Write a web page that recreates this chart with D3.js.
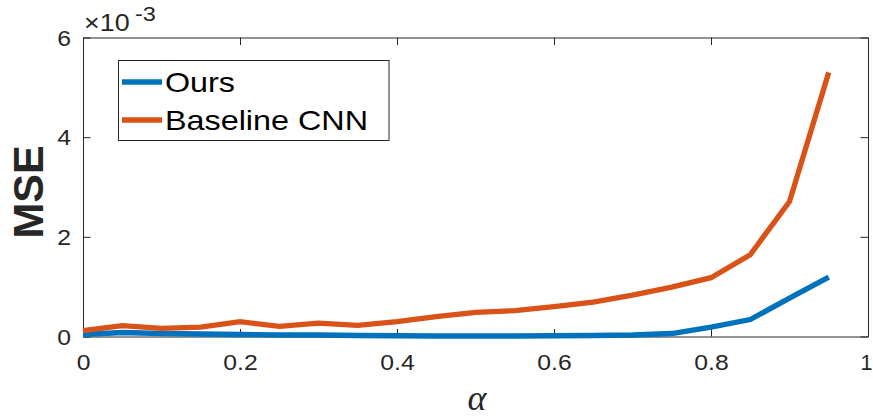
<!DOCTYPE html>
<html>
<head>
<meta charset="utf-8">
<script src="https://cdn.jsdelivr.net/npm/d3@7"></script>
<style>
  html, body { margin: 0; padding: 0; background: #fff; }
  svg { display: block; }
  text { font-family: "Liberation Sans", Arial, Helvetica, sans-serif; }
</style>
</head>
<body>
<svg id="chart" width="873" height="419"></svg>
<script>
// ---- data ----
const alphaValues = [0, 0.05, 0.1, 0.15, 0.2, 0.25, 0.3, 0.35, 0.4, 0.45,
                     0.5, 0.55, 0.6, 0.65, 0.7, 0.75, 0.8, 0.85, 0.9, 0.95];
const oursMSE = [0.04e-3, 0.08e-3, 0.06e-3, 0.05e-3, 0.04e-3, 0.03e-3, 0.03e-3, 0.02e-3, 0.015e-3, 0.01e-3,
                 0.01e-3, 0.01e-3, 0.015e-3, 0.02e-3, 0.03e-3, 0.06e-3, 0.19e-3, 0.34e-3, 0.77e-3, 1.19e-3];
const baselineMSE = [0.116e-3, 0.217e-3, 0.164e-3, 0.19e-3, 0.297e-3, 0.205e-3, 0.27e-3, 0.225e-3, 0.297e-3, 0.40e-3,
                     0.485e-3, 0.518e-3, 0.60e-3, 0.69e-3, 0.83e-3, 0.99e-3, 1.18e-3, 1.64e-3, 2.71e-3, 5.3e-3];
const seriesNames = ["Ours", "Baseline CNN"];
const seriesColors = ["#0072BD", "#D95319"];
const xTicks = [0, 0.2, 0.4, 0.6, 0.8, 1];
const xTickLabels = ["0", "0.2", "0.4", "0.6", "0.8", "1"];
const yTicks = [0, 2e-3, 4e-3, 6e-3];
const yTickLabels = ["0", "2", "4", "6"];

// ---- layout ----
const svg = d3.select("#chart");
const L = 83, R = 868, T = 37.5, B = 336.5;
const x = d3.scaleLinear().domain([0, 1]).range([L, R]);
const y = d3.scaleLinear().domain([0, 6e-3]).range([B, T]);
const axisColor = "#262626";
const stretch = 1.15;

// axes with inward ticks
const gx = svg.append("g").attr("transform", `translate(0,${B})`)
  .call(d3.axisBottom(x).tickValues(xTicks).tickFormat((d, i) => xTickLabels[i])
    .tickSizeInner(-7.5).tickSizeOuter(0).tickPadding(18));
const gxTop = svg.append("g").attr("transform", `translate(0,${T})`)
  .call(d3.axisTop(x).tickValues(xTicks).tickFormat("").tickSizeInner(-7.5).tickSizeOuter(0));
const gy = svg.append("g").attr("transform", `translate(${L},0)`)
  .call(d3.axisLeft(y).tickValues(yTicks).tickFormat((d, i) => yTickLabels[i])
    .tickSizeInner(-7.5).tickSizeOuter(0).tickPadding(19));
const gyR = svg.append("g").attr("transform", `translate(${R},0)`)
  .call(d3.axisRight(y).tickValues(yTicks).tickFormat("").tickSizeInner(-7.5).tickSizeOuter(0));

[gx, gxTop, gy, gyR].forEach(g => {
  g.attr("font-size", 21.5).attr("font-family", '"Liberation Sans", Arial, sans-serif');
  g.select(".domain").attr("stroke", axisColor).attr("stroke-width", 1);
  g.selectAll(".tick line").attr("stroke", axisColor).attr("stroke-width", 1);
  g.selectAll(".tick text").attr("fill", axisColor);
});
gx.selectAll(".tick text").each(function(d, i) {
  const t = d3.select(this).attr("dy", "0.71em");
  if (i < xTicks.length - 1) t.attr("transform", `scale(${stretch},1)`);
  else t.attr("text-anchor", "end").attr("x", 4);
});
gy.selectAll(".tick text").each(function() {
  d3.select(this).attr("x", -12 / stretch).attr("transform", `scale(${stretch},1)`).attr("dy", "0.36em");
});

// exponent label (×10^-3)
svg.append("text").attr("transform", "translate(84,31) scale(1.12,1)")
  .attr("fill", axisColor).attr("font-size", 24).text("×10");
svg.append("text").attr("transform", "translate(135,20.5) scale(1.12,1)")
  .attr("fill", axisColor).attr("font-size", 21).text("-3");

// lines
const line = d3.line().x((d, i) => x(alphaValues[i])).y(d => y(d));
[oursMSE, baselineMSE].forEach((s, k) => {
  svg.append("path").datum(s).attr("d", line)
    .attr("fill", "none").attr("stroke", seriesColors[k]).attr("stroke-width", 5.3)
    .attr("stroke-linejoin", "miter").attr("stroke-linecap", "butt");
});

// legend
const lg = svg.append("g");
lg.append("rect").attr("x", 118.5).attr("y", 60.5).attr("width", 270.5).attr("height", 80)
  .attr("fill", "#fff").attr("stroke", axisColor).attr("stroke-width", 1);
const rowY = [82, 120];
seriesNames.forEach((n, k) => {
  lg.append("line").attr("x1", 122).attr("x2", 162).attr("y1", rowY[k]).attr("y2", rowY[k])
    .attr("stroke", seriesColors[k]).attr("stroke-width", 5.3);
  lg.append("text").attr("x", 165).attr("y", rowY[k] + 9.5)
    .attr("fill", "#000").attr("font-size", 28)
    .attr("textLength", k === 0 ? 70 : 203).attr("lengthAdjust", "spacingAndGlyphs")
    .text(n);
});

// axis titles
svg.append("text").attr("transform", `translate(43,192) rotate(-90)`)
  .attr("text-anchor", "middle").attr("fill", axisColor)
  .attr("font-size", 43).attr("font-weight", "bold").text("MSE");
svg.append("text").attr("x", 477).attr("y", 410).attr("text-anchor", "middle")
  .attr("fill", axisColor)
  .style("font-family", '"Liberation Serif", "Times New Roman", serif')
  .attr("font-style", "italic").attr("font-size", 36).text("α");
</script>
</body>
</html>
